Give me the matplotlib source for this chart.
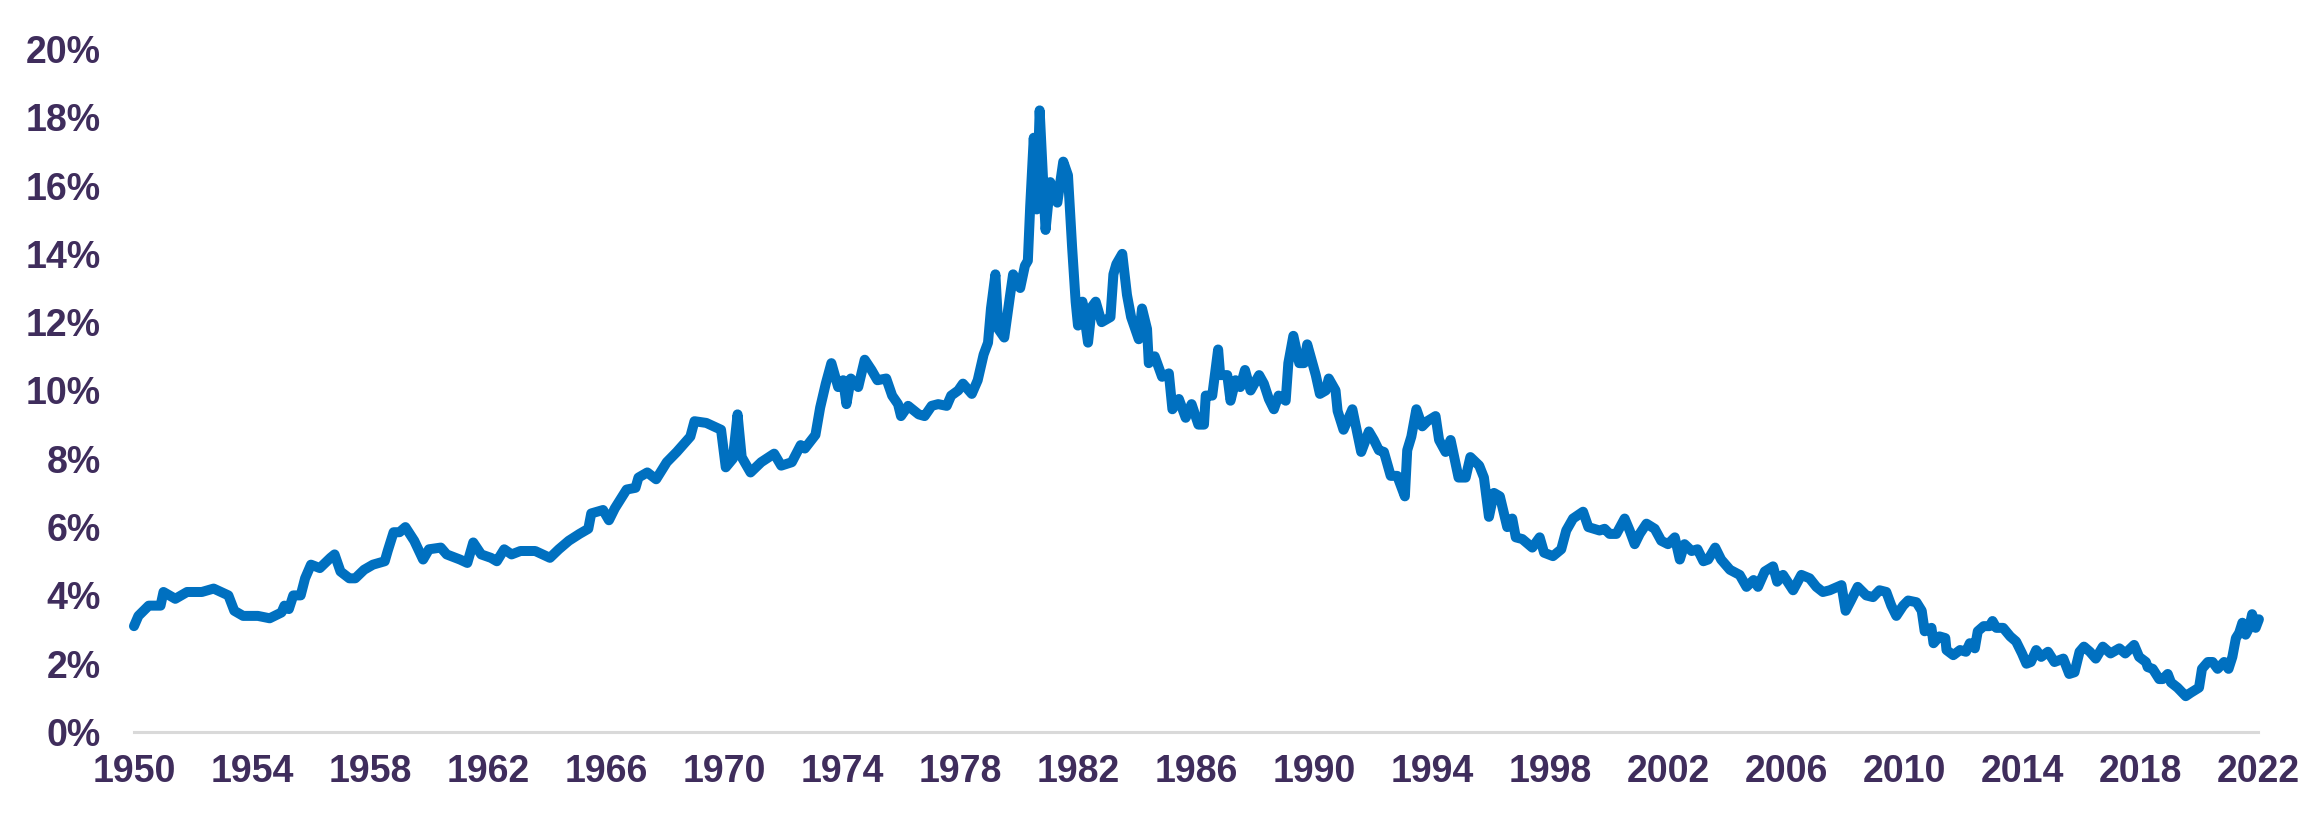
import matplotlib
matplotlib.use("Agg")
import matplotlib.pyplot as plt

# yield readings (decimal year, percent)
years = [
    1950.0, 1950.15, 1950.5, 1950.9, 1951.0, 1951.4, 1951.8, 1952.3, 1952.7, 1953.2,
    1953.4, 1953.7, 1954.2, 1954.6, 1955.0, 1955.1, 1955.25, 1955.4, 1955.65, 1955.8,
    1956.0, 1956.3, 1956.66, 1956.8, 1957.0, 1957.3, 1957.5, 1957.8, 1958.1, 1958.5,
    1958.6, 1958.8, 1959.0, 1959.2, 1959.5, 1959.8, 1960.0, 1960.4, 1960.6, 1961.05,
    1961.3, 1961.5, 1961.77, 1962.1, 1962.3, 1962.55, 1962.8, 1963.1, 1963.6, 1964.1,
    1964.4, 1964.74, 1965.1, 1965.4, 1965.5, 1965.9, 1966.1, 1966.3, 1966.7, 1967.0,
    1967.1, 1967.4, 1967.7, 1968.06, 1968.4, 1968.86, 1969.0, 1969.4, 1969.9, 1970.06,
    1970.3, 1970.46, 1970.6, 1970.9, 1971.26, 1971.7, 1971.94, 1972.3, 1972.6, 1972.74,
    1973.1, 1973.26, 1973.45, 1973.64, 1973.87, 1974.04, 1974.15, 1974.3, 1974.55, 1974.77,
    1975.0, 1975.2, 1975.5, 1975.7, 1975.9, 1976.0, 1976.24, 1976.6, 1976.8, 1977.04,
    1977.26, 1977.55, 1977.7, 1977.94, 1978.1, 1978.4, 1978.6, 1978.8, 1978.95, 1979.05,
    1979.2, 1979.3, 1979.5, 1979.7, 1979.8, 1980.04, 1980.2, 1980.3, 1980.38, 1980.5,
    1980.6, 1980.7, 1980.9, 1981.06, 1981.3, 1981.5, 1981.66, 1981.8, 1981.92, 1982.0,
    1982.15, 1982.34, 1982.47, 1982.6, 1982.8, 1983.1, 1983.2, 1983.3, 1983.5, 1983.66,
    1983.8, 1984.06, 1984.17, 1984.34, 1984.4, 1984.6, 1984.85, 1985.08, 1985.2, 1985.42,
    1985.65, 1985.85, 1986.08, 1986.27, 1986.33, 1986.55, 1986.75, 1986.82, 1987.06, 1987.17,
    1987.34, 1987.5, 1987.66, 1987.85, 1988.14, 1988.3, 1988.47, 1988.64, 1988.8, 1989.04,
    1989.13, 1989.3, 1989.5, 1989.66, 1989.77, 1990.06, 1990.2, 1990.4, 1990.5, 1990.73,
    1990.8, 1991.0, 1991.3, 1991.6, 1991.86, 1992.03, 1992.2, 1992.37, 1992.6, 1992.82,
    1993.08, 1993.16, 1993.3, 1993.47, 1993.67, 1993.84, 1994.12, 1994.24, 1994.46, 1994.63,
    1994.9, 1995.14, 1995.3, 1995.6, 1995.76, 1995.93, 1996.1, 1996.3, 1996.55, 1996.72,
    1996.84, 1997.06, 1997.4, 1997.65, 1997.8, 1998.1, 1998.38, 1998.55, 1998.78, 1999.12,
    1999.3, 1999.68, 1999.85, 2000.02, 2000.25, 2000.53, 2000.7, 2000.87, 2001.04, 2001.27,
    2001.55, 2001.77, 2002.0, 2002.23, 2002.4, 2002.56, 2002.8, 2003.0, 2003.2, 2003.36,
    2003.6, 2003.8, 2004.1, 2004.43, 2004.66, 2004.9, 2005.05, 2005.28, 2005.56, 2005.7,
    2005.9, 2006.24, 2006.52, 2006.8, 2007.03, 2007.25, 2007.48, 2007.88, 2008.02, 2008.2,
    2008.43, 2008.72, 2008.95, 2009.17, 2009.4, 2009.57, 2009.74, 2009.97, 2010.14, 2010.42,
    2010.6, 2010.7, 2010.93, 2011.0, 2011.2, 2011.4, 2011.44, 2011.67, 2011.9, 2012.1,
    2012.23, 2012.4, 2012.5, 2012.7, 2012.9, 2013.0, 2013.13, 2013.36, 2013.6, 2013.8,
    2014.0, 2014.15, 2014.3, 2014.48, 2014.65, 2014.88, 2015.1, 2015.4, 2015.6, 2015.78,
    2015.95, 2016.1, 2016.3, 2016.5, 2016.74, 2017.0, 2017.3, 2017.5, 2017.8, 2017.97,
    2018.2, 2018.26, 2018.43, 2018.65, 2018.77, 2018.94, 2019.05, 2019.27, 2019.55, 2019.72,
    2020.0, 2020.1, 2020.3, 2020.46, 2020.63, 2020.85, 2021.0, 2021.13, 2021.25, 2021.36,
    2021.47, 2021.58, 2021.7, 2021.8, 2021.92, 2022.03,
]
rates = [
    3.1, 3.4, 3.7, 3.7, 4.1, 3.9, 4.1, 4.1, 4.2, 4.0,
    3.55, 3.4, 3.4, 3.33, 3.5, 3.7, 3.6, 4.0, 4.0, 4.5,
    4.9, 4.8, 5.1, 5.2, 4.7, 4.5, 4.5, 4.75, 4.9, 5.0,
    5.3, 5.85, 5.85, 6.0, 5.6, 5.05, 5.35, 5.4, 5.2, 5.05,
    4.95, 5.55, 5.2, 5.1, 5.0, 5.35, 5.2, 5.3, 5.3, 5.1,
    5.35, 5.6, 5.8, 5.95, 6.4, 6.5, 6.2, 6.55, 7.1, 7.15,
    7.45, 7.6, 7.4, 7.9, 8.2, 8.65, 9.1, 9.05, 8.85, 7.75,
    8.0, 9.3, 8.05, 7.6, 7.9, 8.15, 7.8, 7.9, 8.4, 8.3,
    8.7, 9.5, 10.2, 10.8, 10.1, 10.3, 9.6, 10.35, 10.1, 10.9,
    10.6, 10.3, 10.35, 9.85, 9.6, 9.25, 9.55, 9.3, 9.25, 9.55,
    9.6, 9.55, 9.85, 10.0, 10.2, 9.9, 10.3, 11.05, 11.4, 12.4,
    13.4, 11.8, 11.55, 12.8, 13.4, 13.0, 13.65, 13.8, 15.4, 17.4,
    15.3, 18.2, 14.7, 16.1, 15.5, 16.7, 16.3, 14.2, 12.6, 11.9,
    12.6, 11.4, 12.45, 12.6, 12.0, 12.15, 13.4, 13.7, 14.0, 12.8,
    12.15, 11.5, 12.4, 11.8, 10.8, 11.0, 10.4, 10.5, 9.45, 9.75,
    9.2, 9.6, 9.0, 9.0, 9.85, 9.85, 11.2, 10.45, 10.45, 9.7,
    10.3, 10.1, 10.6, 10.0, 10.45, 10.2, 9.75, 9.45, 9.85, 9.7,
    10.8, 11.6, 10.8, 10.8, 11.35, 10.45, 9.9, 10.0, 10.35, 10.0,
    9.4, 8.85, 9.45, 8.2, 8.8, 8.55, 8.25, 8.2, 7.5, 7.5,
    6.9, 8.25, 8.65, 9.45, 8.95, 9.1, 9.25, 8.55, 8.2, 8.55,
    7.45, 7.45, 8.05, 7.8, 7.45, 6.3, 7.0, 6.9, 6.0, 6.25,
    5.7, 5.65, 5.4, 5.7, 5.25, 5.15, 5.35, 5.9, 6.25, 6.45,
    6.0, 5.9, 5.95, 5.8, 5.8, 6.25, 5.9, 5.5, 5.8, 6.1,
    5.95, 5.6, 5.5, 5.7, 5.05, 5.5, 5.3, 5.35, 5.0, 5.05,
    5.4, 5.05, 4.75, 4.6, 4.25, 4.45, 4.25, 4.7, 4.85, 4.4,
    4.6, 4.15, 4.6, 4.5, 4.25, 4.1, 4.15, 4.3, 3.55, 3.85,
    4.25, 4.0, 3.95, 4.15, 4.1, 3.7, 3.4, 3.7, 3.85, 3.8,
    3.55, 2.95, 3.05, 2.6, 2.8, 2.75, 2.4, 2.25, 2.4, 2.35,
    2.6, 2.45, 2.95, 3.1, 3.1, 3.25, 3.05, 3.05, 2.8, 2.65,
    2.3, 2.0, 2.05, 2.4, 2.2, 2.35, 2.05, 2.15, 1.7, 1.75,
    2.35, 2.5, 2.35, 2.15, 2.5, 2.3, 2.45, 2.3, 2.55, 2.2,
    2.05, 1.9, 1.85, 1.55, 1.55, 1.7, 1.45, 1.3, 1.05, 1.15,
    1.3, 1.85, 2.05, 2.05, 1.85, 2.05, 1.85, 2.2, 2.75, 2.9,
    3.2, 2.85, 3.05, 3.45, 3.05, 3.3,
]

x_ticks = list(range(1950, 2023, 4))
y_ticks = list(range(0, 21, 2))

text_col = "#3F2D5C"
line_col = "#0070C0"

plt.rcParams["font.family"] = ["Liberation Sans", "DejaVu Sans"]

fig = plt.figure(figsize=(23.1, 8.25), dpi=100)
ax = fig.add_axes([0.058, 0.1127, 0.9195, 0.828])

ax.plot(years, rates, color=line_col, lw=7.2, solid_joinstyle="round", solid_capstyle="round")

ax.set_xlim(1950, 2022)
ax.set_ylim(0, 20)
ax.set_xticks(x_ticks)
ax.set_xticklabels([str(y) for y in x_ticks])
ax.set_yticks(y_ticks)
ax.set_yticklabels([f"{v}%" for v in y_ticks])

for s in ["top", "right", "left"]:
    ax.spines[s].set_visible(False)
ax.spines["bottom"].set_color("#D9D9D9")
ax.spines["bottom"].set_linewidth(2.2)
ax.spines["bottom"].set_zorder(0)

ax.tick_params(axis="x", length=0, pad=16, labelsize=27, labelcolor=text_col)
ax.tick_params(axis="y", length=0, pad=24, labelsize=27, labelcolor=text_col)
for lab in ax.get_xticklabels() + ax.get_yticklabels():
    lab.set_fontweight("bold")

for ln in ax.lines:
    ln.set_clip_on(False)

fig.savefig("out.png", dpi=100, facecolor="white")
